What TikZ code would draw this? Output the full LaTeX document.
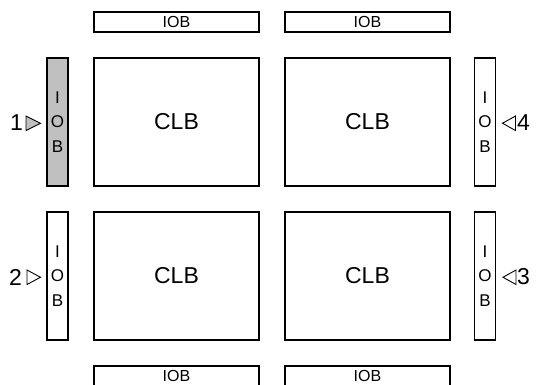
\documentclass[tikz,border=0pt]{standalone}
\usepackage{fontspec}
\setmainfont{Liberation Sans}
\begin{document}
\begin{tikzpicture}[x=1pt,y=-1pt,
  blk/.style={draw=black,line width=1.2pt,fill=white,inner sep=0pt,minimum width=165pt,minimum height=128pt,font=\fontsize{23}{26}\selectfont},
  hiob/.style={draw=black,line width=1.2pt,fill=white,inner sep=0pt,minimum width=165pt,minimum height=20pt,font=\fontsize{16}{18}\selectfont},
  viob/.style={draw=black,line width=1.2pt,fill=white,inner sep=0pt,minimum width=21pt,minimum height=128pt,align=center,font=\fontsize{17}{24.5}\selectfont},
  num/.style={inner sep=0pt,font=\fontsize{23}{26}\selectfont},
  tri/.style={draw=black,line width=0.9pt,line join=miter}]
\useasboundingbox (0,0) rectangle (537,384);
\node[hiob] (iobT1) at (176.5,22) {IOB};
\node[hiob] (iobT2) at (367.5,22) {IOB};
\node[blk] (clb1) at (176.5,122) {CLB};
\node[blk] (clb2) at (367.5,122) {CLB};
\node[blk] (clb3) at (176.5,276) {CLB};
\node[blk] (clb4) at (367.5,276) {CLB};
\node[viob,fill={rgb,255:red,192;green,192;blue,192}] (iobL1) at (57.5,122) {I\\O\\B};
\node[viob] (iobL2) at (57.5,276) {I\\O\\B};
\node[viob] (iobR1) at (485,122) {I\\O\\B};
\node[viob] (iobR2) at (485,276) {I\\O\\B};
\node[hiob] (iobB1) at (176.5,376) {IOB};
\node[hiob] (iobB2) at (367.5,376) {IOB};
\node[num] (n1) at (16.5,123) {1};
\node[num] (n2) at (15.5,277) {2};
\node[num] (n4) at (523.5,123) {4};
\node[num] (n3) at (523.5,277) {3};
\draw[tri,fill={rgb,255:red,192;green,192;blue,192}] (26,116) -- (26,130.5) -- (40.5,123.25) -- cycle;
\draw[tri,fill=white] (27,270) -- (27,284.5) -- (40.5,277.25) -- cycle;
\draw[tri,fill=white] (515.5,116) -- (515.5,130.5) -- (502.5,123.25) -- cycle;
\draw[tri,fill=white] (516,270) -- (516,284.5) -- (503,277.25) -- cycle;
\end{tikzpicture}
\end{document}
